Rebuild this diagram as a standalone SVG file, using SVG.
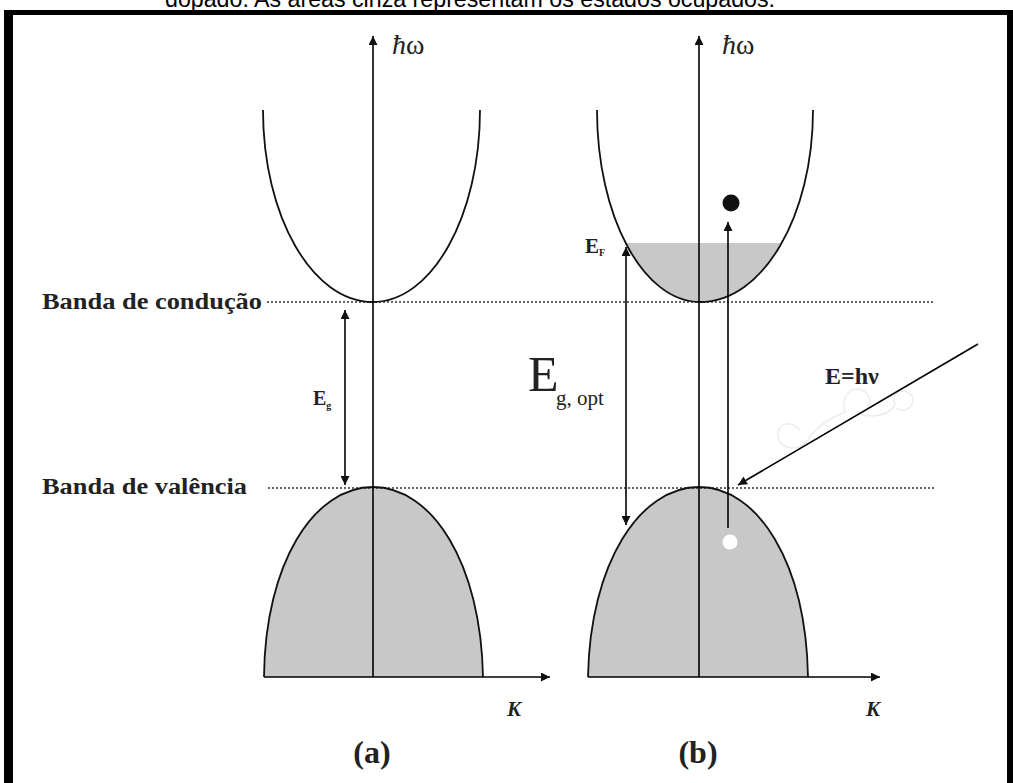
<svg xmlns="http://www.w3.org/2000/svg" width="1013" height="783" viewBox="0 0 1013 783">
<defs>
<style>
.ax{stroke:#000;stroke-width:1.6;fill:none}
.band{stroke:#111;stroke-width:1.8;fill:none}
.fill{fill:#c8c8c8}
.dot{stroke:#333;stroke-width:1.6;stroke-dasharray:2 2;fill:none}
.lbl{font-family:"Liberation Serif",serif;font-weight:bold;fill:#222}
.sans{font-family:"Liberation Sans",Arial,sans-serif;fill:#000}
</style>
<marker id="ah2" viewBox="0 0 10 10" refX="10" refY="5" markerWidth="9" markerHeight="9" markerUnits="userSpaceOnUse" orient="auto-start-reverse">
<path d="M0,0 L10,5 L0,10 Z" fill="#111"/>
</marker>
<clipPath id="cbB"><path d="M597,110 C597,216 643,302 700,302 C763,302 813,216 813,110 Z"/></clipPath>
</defs>
<rect width="1013" height="783" fill="#fff"/>
<text class="sans" x="470" y="7" font-size="23" text-anchor="middle" textLength="610" lengthAdjust="spacingAndGlyphs">dopado. As áreas cinza representam os estados ocupados.</text>
<g id="frame">
<rect x="4" y="10" width="1009" height="5" fill="#000"/>
<rect x="4" y="10" width="9" height="773" fill="#000"/>
<rect x="1007" y="10" width="6" height="773" fill="#000"/>
</g>
<g id="fills">
<path class="fill" d="M264,677 C265,563 314,487 373,487 C432,487 481,563 483,677 Z"/>
<path class="fill" d="M588,677 C590,563 640,487 699,487 C758,487 806,563 808,677 Z"/>
<rect class="fill" x="590" y="243" width="230" height="70" clip-path="url(#cbB)"/>
</g>
<g id="levels">
<line class="dot" x1="267" y1="302" x2="935" y2="302"/>
<line class="dot" x1="268" y1="488" x2="935" y2="488"/>
</g>
<g id="panel-a">
<path class="band" d="M263,110 C263,216 312,302 373,302 C432,302 480,216 480,110"/>
<path class="band" d="M264,677 C265,563 314,487 373,487 C432,487 481,563 483,677"/>
<text class="lbl" x="42" y="309" font-size="23" textLength="220" lengthAdjust="spacingAndGlyphs">Banda de condução</text>
<text class="lbl" x="42" y="494" font-size="23" textLength="205" lengthAdjust="spacingAndGlyphs">Banda de valência</text>
<text class="lbl" x="313" y="405" font-size="20">E<tspan font-size="10" dy="4">g</tspan></text>
<text x="392" y="54" font-family="Liberation Serif,serif" font-size="28" fill="#222"><tspan font-style="italic">ħ</tspan>ω</text>
<text class="lbl" x="507" y="716" font-size="21" font-style="italic">K</text>
<text class="lbl" x="372" y="763" font-size="32" text-anchor="middle">(a)</text>
</g>
<g id="panel-b">
<path class="band" d="M597,110 C597,216 643,302 700,302 C763,302 813,216 813,110"/>
<path class="band" d="M588,677 C590,563 640,487 699,487 C758,487 806,563 808,677"/>
<circle cx="731" cy="203" r="8.5" fill="#111"/>
<circle cx="730" cy="542" r="7.5" fill="#fff"/>
<text class="lbl" x="585" y="253" font-size="21">E<tspan font-size="10" dy="3">F</tspan></text>
<text x="528" y="391" font-family="Liberation Serif,serif" font-size="50" fill="#222">E</text>
<text x="556" y="405" font-family="Liberation Serif,serif" font-size="21" fill="#222">g, opt</text>
<text class="lbl" x="825" y="384" font-size="24">E=hν</text>
<path d="M800,430 C790,418 775,425 778,438 C782,450 800,452 808,440 C815,428 830,418 845,412 C840,398 850,386 862,390 C874,396 872,412 858,414 C875,418 888,416 895,405 C890,392 905,386 912,396 C916,406 905,414 896,408" fill="none" stroke="#ececec" stroke-width="1.5"/>
<text x="722" y="54" font-family="Liberation Serif,serif" font-size="28" fill="#222"><tspan font-style="italic">ħ</tspan>ω</text>
<text class="lbl" x="866" y="716" font-size="21" font-style="italic">K</text>
<text class="lbl" x="698" y="763" font-size="32" text-anchor="middle">(b)</text>
</g>
<g id="connectors">
<line class="ax" x1="373" y1="677" x2="373" y2="36" marker-end="url(#ah2)"/>
<line class="ax" x1="264" y1="677" x2="550" y2="677" marker-end="url(#ah2)"/>
<line class="ax" x1="699" y1="677" x2="699" y2="36" marker-end="url(#ah2)"/>
<line class="ax" x1="588" y1="677" x2="880" y2="677" marker-end="url(#ah2)"/>
<line class="ax" x1="345" y1="310" x2="345" y2="485" marker-start="url(#ah2)" marker-end="url(#ah2)"/>
<line class="ax" x1="626" y1="247" x2="626" y2="525" marker-start="url(#ah2)" marker-end="url(#ah2)"/>
<line class="ax" x1="728" y1="528" x2="728" y2="222" marker-end="url(#ah2)"/>
<line class="ax" x1="978" y1="344" x2="738" y2="485" marker-end="url(#ah2)"/>
</g>
</svg>
